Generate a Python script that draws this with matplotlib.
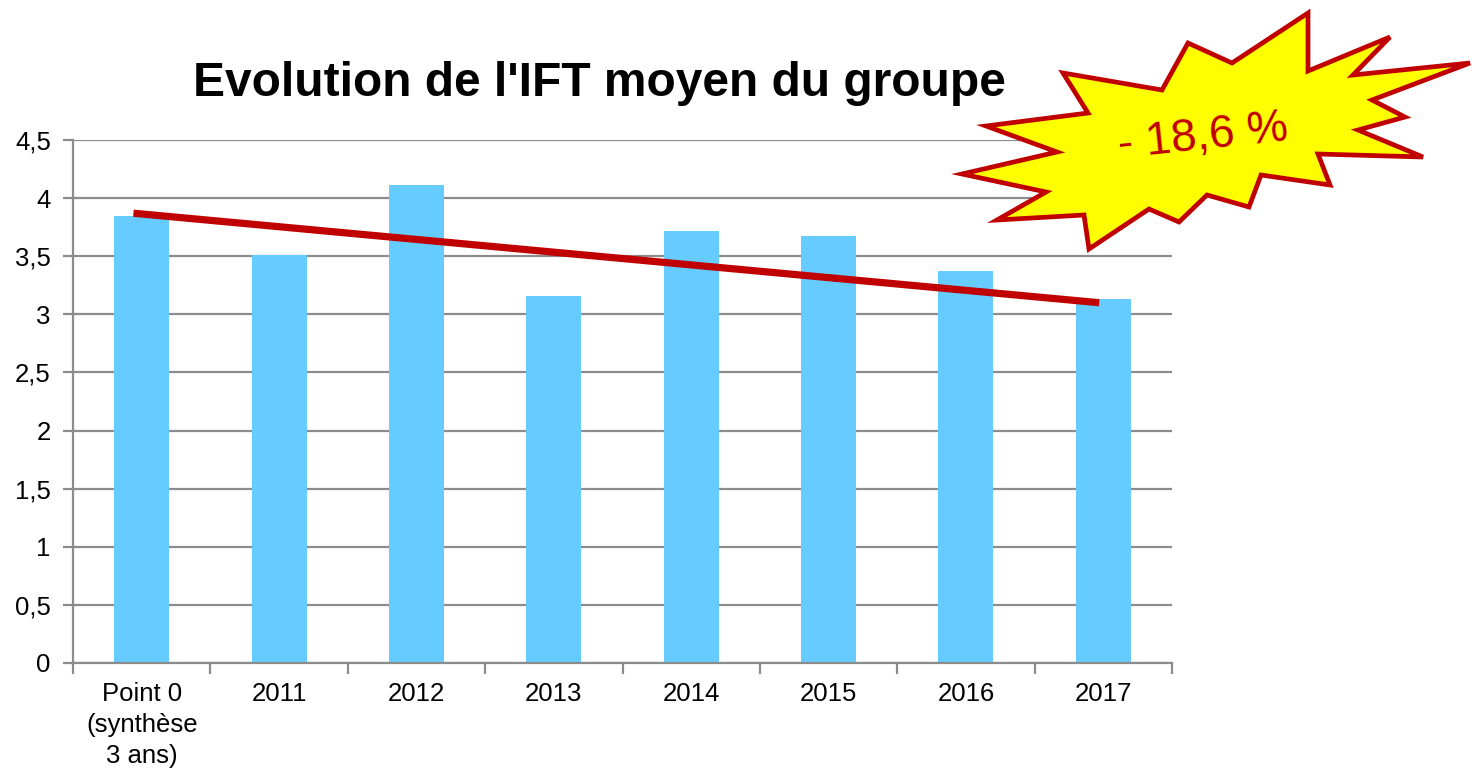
import matplotlib
matplotlib.use("Agg")
import matplotlib.pyplot as plt
from matplotlib.patches import Polygon
import numpy as np

plt.rcParams['font.family'] = ['Liberation Sans', 'DejaVu Sans']

categories = ["Point 0\n(synthèse\n3 ans)", "2011", "2012", "2013", "2014", "2015", "2016", "2017"]
ift_values = [3.85, 3.51, 4.11, 3.16, 3.72, 3.67, 3.37, 3.13]
trend_start = 3.87
trend_end = 3.10
y_ticks = [0, 0.5, 1, 1.5, 2, 2.5, 3, 3.5, 4, 4.5]
y_tick_labels = ["0", "0,5", "1", "1,5", "2", "2,5", "3", "3,5", "4", "4,5"]
title = "Evolution de l'IFT moyen du groupe"
badge_text = "- 18,6 %"

W, H = 1472, 770
fig = plt.figure(figsize=(W / 100, H / 100), dpi=100)
ax = fig.add_axes([73 / W, 1 - 663 / H, (1172 - 73) / W, (663 - 140) / H])

x = np.arange(len(categories))
ax.bar(x, ift_values, width=0.4, color="#66CCFF", zorder=2)
ax.plot([x[0] - 0.06, x[-1] - 0.03], [trend_start, trend_end], color="#C00000",
        lw=5.2, solid_capstyle="butt", zorder=3)

ax.set_xlim(-0.5, len(categories) - 0.5)
ax.set_ylim(0, 4.5)
ax.set_yticks(y_ticks)
ax.set_yticklabels(y_tick_labels, fontsize=18.5)
ax.yaxis.grid(True, color="#8C8C8C", lw=1.6, zorder=0)
ax.set_axisbelow(True)

ax.set_xticks(x)
ax.set_xticklabels(categories, fontsize=18.5, linespacing=1.35, va="top")
ax.tick_params(axis="x", length=0, pad=14)
ax.set_xticks(np.arange(len(categories) + 1) - 0.5, minor=True)
ax.tick_params(axis="x", which="minor", length=8, width=1.6, color="#8C8C8C", direction="out")
ax.tick_params(axis="y", length=7, width=1.6, color="#8C8C8C", direction="out", pad=9)

for s in ["top", "right"]:
    ax.spines[s].set_visible(False)
for s in ["left", "bottom"]:
    ax.spines[s].set_color("#8C8C8C")
    ax.spines[s].set_linewidth(1.6)

fig.text(599 / W, 1 - 83 / H, title, fontsize=34.5, fontweight="bold",
         ha="center", va="center")

star_px = [(1063, 73), (1162, 90), (1188, 43), (1232, 63), (1308, 13), (1308, 71),
           (1390, 37), (1353, 75), (1470, 63), (1372, 100), (1405, 117), (1358, 130),
           (1423, 157), (1318, 154), (1330, 185), (1261, 175), (1249, 207), (1207, 195),
           (1179, 222), (1149, 209), (1089, 249), (1084, 215), (997, 220), (1046, 192),
           (962, 174), (1057, 152), (986, 126), (1088, 113)]
star = Polygon([(px / W, 1 - py / H) for px, py in star_px], closed=True,
               facecolor="#FFFF00", edgecolor="#C00000", lw=3.4,
               joinstyle="miter", transform=fig.transFigure, zorder=5)
fig.add_artist(star)
fig.text(1203 / W, 1 - 137 / H, badge_text, fontsize=33, color="#C00000",
         rotation=6, ha="center", va="center", rotation_mode="anchor", zorder=6)

fig.savefig("out.png", dpi=100)
